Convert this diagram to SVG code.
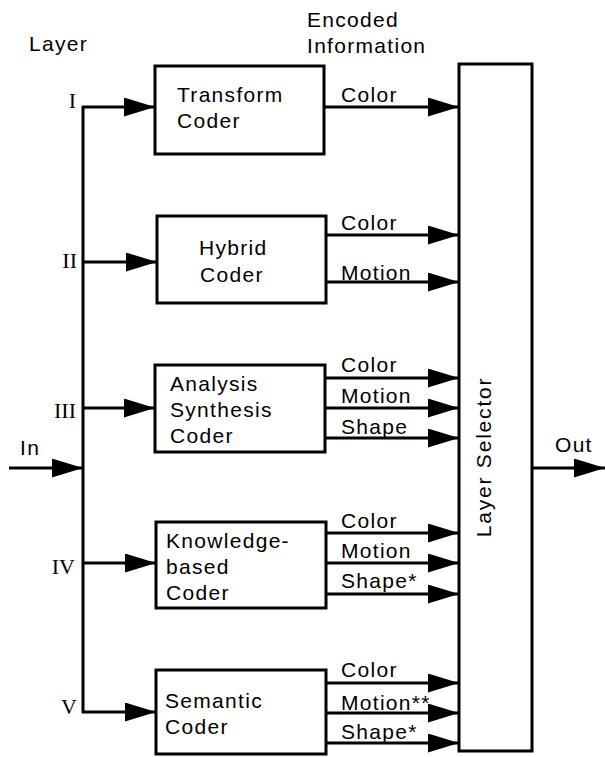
<svg xmlns="http://www.w3.org/2000/svg" width="605" height="757" viewBox="0 0 605 757">
<style>
.box{fill:#fff;stroke:#000;stroke-width:3}
.ln{fill:none;stroke:#000;stroke-width:3}
.t{font-family:"Liberation Sans",Arial,sans-serif;font-size:21px;letter-spacing:1.3px;fill:#000}
.r{font-family:"Liberation Serif","Times New Roman",serif;font-size:22px;fill:#000;text-anchor:end}
</style>
<defs>
<marker id="ah" markerUnits="userSpaceOnUse" markerWidth="31" markerHeight="19" refX="31" refY="9.5" orient="auto" viewBox="0 0 31 19">
<path d="M0,0 L31,9.5 L0,19 z" fill="#000"/>
</marker>
</defs>
<rect width="605" height="757" fill="#fff"/>
<text class="t" x="29" y="51">Layer</text>
<text class="t" x="307" y="27">Encoded</text>
<text class="t" x="307" y="53">Information</text>
<g id="connectors">
<path class="ln" d="M83,106 V713"/>
<line class="ln" x1="82" y1="107" x2="155" y2="107" marker-end="url(#ah)"/>
<line class="ln" x1="83" y1="262" x2="157" y2="262" marker-end="url(#ah)"/>
<line class="ln" x1="83" y1="408" x2="155" y2="408" marker-end="url(#ah)"/>
<line class="ln" x1="83" y1="563" x2="156" y2="563" marker-end="url(#ah)"/>
<line class="ln" x1="82" y1="712" x2="156" y2="712" marker-end="url(#ah)"/>
<line class="ln" x1="9" y1="468" x2="83" y2="468" marker-end="url(#ah)"/>
<line class="ln" x1="532" y1="468" x2="605" y2="468" marker-end="url(#ah)"/>
<line class="ln" x1="324" y1="107" x2="459" y2="107" marker-end="url(#ah)"/>
<line class="ln" x1="326" y1="235" x2="459" y2="235" marker-end="url(#ah)"/>
<line class="ln" x1="326" y1="282" x2="459" y2="282" marker-end="url(#ah)"/>
<line class="ln" x1="325" y1="378" x2="459" y2="378" marker-end="url(#ah)"/>
<line class="ln" x1="325" y1="408" x2="459" y2="408" marker-end="url(#ah)"/>
<line class="ln" x1="325" y1="438" x2="459" y2="438" marker-end="url(#ah)"/>
<line class="ln" x1="326" y1="533" x2="459" y2="533" marker-end="url(#ah)"/>
<line class="ln" x1="326" y1="563" x2="459" y2="563" marker-end="url(#ah)"/>
<line class="ln" x1="326" y1="594" x2="459" y2="594" marker-end="url(#ah)"/>
<line class="ln" x1="326" y1="683" x2="459" y2="683" marker-end="url(#ah)"/>
<line class="ln" x1="326" y1="713" x2="459" y2="713" marker-end="url(#ah)"/>
<line class="ln" x1="326" y1="743" x2="459" y2="743" marker-end="url(#ah)"/>
</g>
<g id="labels">
<text class="r" x="76" y="108">I</text>
<text class="r" x="77" y="268">II</text>
<text class="r" x="76" y="418">III</text>
<text class="r" x="75" y="574">IV</text>
<text class="r" x="77" y="714">V</text>
<text class="t" x="20" y="455">In</text>
<text class="t" x="555" y="452">Out</text>
<text class="t" x="341" y="102">Color</text>
<text class="t" x="341" y="230">Color</text>
<text class="t" x="341" y="280">Motion</text>
<text class="t" x="341" y="372">Color</text>
<text class="t" x="341" y="403">Motion</text>
<text class="t" x="341" y="434">Shape</text>
<text class="t" x="341" y="528">Color</text>
<text class="t" x="341" y="558">Motion</text>
<text class="t" x="341" y="588">Shape*</text>
<text class="t" x="341" y="677">Color</text>
<text class="t" x="341" y="710">Motion**</text>
<text class="t" x="341" y="739">Shape*</text>
</g>
<g id="transform-coder">
<rect class="box" x="155" y="66" width="169" height="88"/>
<text class="t" x="177" y="102">Transform</text>
<text class="t" x="177" y="128">Coder</text>
</g>
<g id="hybrid-coder">
<rect class="box" x="157" y="216" width="169" height="87"/>
<text class="t" x="199" y="255">Hybrid</text>
<text class="t" x="200" y="282">Coder</text>
</g>
<g id="analysis-synthesis-coder">
<rect class="box" x="155" y="365" width="170" height="87"/>
<text class="t" x="170" y="391">Analysis</text>
<text class="t" x="170" y="417">Synthesis</text>
<text class="t" x="170" y="443">Coder</text>
</g>
<g id="knowledge-based-coder">
<rect class="box" x="156" y="522" width="170" height="86"/>
<text class="t" x="166" y="548">Knowledge-</text>
<text class="t" x="166" y="574">based</text>
<text class="t" x="166" y="600">Coder</text>
</g>
<g id="semantic-coder">
<rect class="box" x="156" y="670" width="170" height="84"/>
<text class="t" x="165" y="708">Semantic</text>
<text class="t" x="165" y="734">Coder</text>
</g>
<g id="layer-selector">
<rect class="box" x="459" y="64" width="73" height="687"/>
<text class="t" transform="translate(491,457) rotate(-90)" text-anchor="middle" style="letter-spacing:1.8px">Layer Selector</text>
</g>
</svg>
